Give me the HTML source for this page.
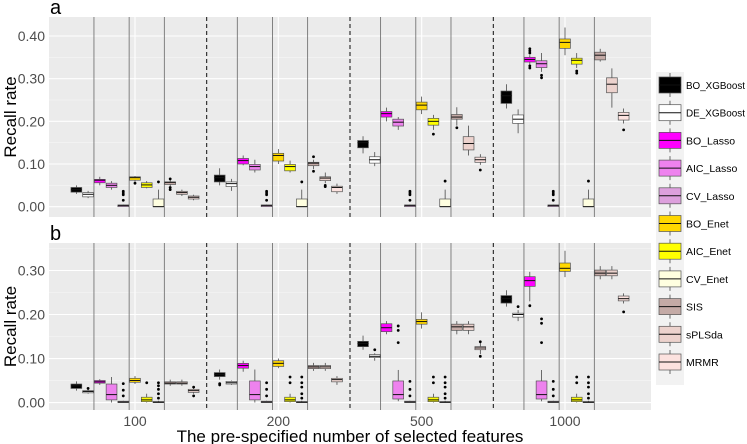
<!DOCTYPE html>
<html><head><meta charset="utf-8"><style>
html,body{margin:0;padding:0;background:#fff;}
svg{display:block;font-family:"Liberation Sans",Arial,sans-serif;}
</style></head><body>
<svg id="chart" width="747" height="444" viewBox="0 0 747 444"></svg>
<script>
const seriesNames=["BO_XGBoost","DE_XGBoost","BO_Lasso","AIC_Lasso","CV_Lasso","BO_Enet","AIC_Enet","CV_Enet","SIS","sPLSda","MRMR"];
const seriesColors=["#000000","#ffffff","#ff00ff","#ee82ee","#dda0dd","#ffd700","#ffff00","#ffffe0","#c4aaa6","#ecd2cd","#fce2df"];
const categories=["100","200","500","1000"];
const aTicks=[0,0.1,0.2,0.3,0.4];
const aTickLabels=["0.00","0.10","0.20","0.30","0.40"];
const bTicks=[0,0.1,0.2,0.3];
const bTickLabels=["0.00","0.10","0.20","0.30"];
// panel a: [lo,q1,med,q3,hi] per series per category
const aStats=[
[[0.03,0.034,0.04,0.045,0.05],[0.05,0.058,0.068,0.074,0.09],[0.125,0.138,0.15,0.155,0.165],[0.23,0.242,0.26,0.271,0.287]],
[[0.02,0.023,0.029,0.033,0.037],[0.037,0.047,0.054,0.058,0.065],[0.095,0.102,0.11,0.117,0.128],[0.172,0.195,0.205,0.215,0.228]],
[[0.05,0.056,0.062,0.064,0.07],[0.097,0.1,0.108,0.113,0.12],[0.2,0.21,0.218,0.223,0.232],[0.33,0.339,0.345,0.35,0.355]],
[[0.04,0.045,0.05,0.055,0.06],[0.08,0.086,0.094,0.099,0.11],[0.18,0.189,0.198,0.205,0.21],[0.316,0.326,0.335,0.342,0.36]],
[[0,0,0.003,0.004,0.005],[0,0,0.003,0.004,0.005],[0,0,0.003,0.004,0.005],[0,0,0.003,0.004,0.005]],
[[0.058,0.062,0.068,0.07,0.072],[0.1,0.107,0.12,0.125,0.135],[0.217,0.227,0.238,0.245,0.258],[0.355,0.371,0.385,0.393,0.42]],
[[0.043,0.045,0.051,0.056,0.06],[0.08,0.084,0.094,0.099,0.108],[0.18,0.191,0.2,0.207,0.215],[0.325,0.334,0.343,0.348,0.36]],
[[0,0,0,0.018,0.04],[0,0,0,0.018,0.04],[0,0,0,0.018,0.04],[0,0,0,0.018,0.04]],
[[0.048,0.052,0.057,0.058,0.063],[0.088,0.096,0.102,0.104,0.11],[0.19,0.205,0.21,0.216,0.233],[0.34,0.344,0.355,0.362,0.37]],
[[0.025,0.029,0.033,0.036,0.04],[0.055,0.061,0.067,0.07,0.08],[0.12,0.133,0.148,0.164,0.19],[0.232,0.267,0.287,0.302,0.324]],
[[0.015,0.018,0.022,0.025,0.028],[0.03,0.035,0.045,0.048,0.054],[0.098,0.104,0.11,0.116,0.123],[0.195,0.203,0.214,0.221,0.23]]
];
const aOut=[
[[],[],[],[]],
[[],[],[],[]],
[[],[],[],[0.325,0.33,0.36,0.365,0.37]],
[[],[],[],[0.302,0.308]],
[[0.015,0.028,0.032,0.036],[0.015,0.028,0.032,0.036],[0.015,0.028,0.032,0.036],[0.015,0.028,0.032,0.036]],
[[0.055],[],[],[]],
[[],[],[0.17],[0.313,0.318]],
[[0.058],[0.058],[0.06],[0.06]],
[[0.04,0.045,0.065],[0.083,0.117],[0.185],[]],
[[],[0.047,0.05],[],[]],
[[],[],[0.086],[0.18]]
];
const bStats=[
[[0.027,0.032,0.038,0.042,0.048],[0.052,0.059,0.064,0.068,0.075],[0.12,0.127,0.134,0.139,0.152],[0.218,0.226,0.236,0.243,0.255]],
[[0.02,0.022,0.025,0.027,0.03],[0.04,0.042,0.045,0.048,0.05],[0.095,0.102,0.105,0.109,0.112],[0.185,0.194,0.2,0.203,0.21]],
[[0.04,0.044,0.047,0.05,0.053],[0.07,0.078,0.084,0.089,0.095],[0.155,0.161,0.17,0.179,0.185],[0.23,0.264,0.277,0.286,0.297]],
[[0,0.006,0.018,0.042,0.058],[0,0.006,0.018,0.049,0.075],[0.003,0.008,0.018,0.049,0.074],[0.003,0.008,0.018,0.049,0.074]],
[[0,0,0.001,0.003,0.004],[0,0,0.001,0.003,0.004],[0,0,0.001,0.003,0.004],[0,0,0.001,0.003,0.004]],
[[0.042,0.046,0.05,0.055,0.06],[0.078,0.082,0.089,0.095,0.1],[0.168,0.178,0.184,0.189,0.205],[0.285,0.298,0.305,0.317,0.345]],
[[0,0.002,0.006,0.012,0.02],[0,0.002,0.006,0.012,0.02],[0,0.002,0.006,0.012,0.02],[0,0.002,0.006,0.012,0.02]],
[[0,0,0.001,0.002,0.004],[0,0,0.001,0.002,0.004],[0,0,0.001,0.002,0.004],[0,0,0.001,0.002,0.004]],
[[0.038,0.042,0.044,0.047,0.052],[0.072,0.077,0.081,0.084,0.09],[0.155,0.164,0.172,0.178,0.185],[0.28,0.288,0.294,0.301,0.31]],
[[0.038,0.042,0.044,0.047,0.052],[0.072,0.077,0.081,0.084,0.09],[0.155,0.164,0.172,0.178,0.185],[0.28,0.288,0.294,0.301,0.31]],
[[0.02,0.023,0.027,0.03,0.033],[0.04,0.047,0.052,0.055,0.06],[0.11,0.12,0.124,0.127,0.135],[0.225,0.231,0.236,0.242,0.248]]
];
const bOut=[
[[],[0.04,0.043],[],[]],
[[0.032],[],[0.12],[0.218]],
[[],[],[],[0.22]],
[[],[],[0.136,0.164,0.174],[0.136,0.18,0.19]],
[[0.015,0.028,0.043],[0.015,0.03,0.045],[0.015,0.03,0.048],[0.015,0.03,0.048]],
[[],[],[],[]],
[[0.045],[0.045,0.058],[0.045,0.058],[0.045,0.058]],
[[0.01,0.02,0.03,0.038,0.045],[0.01,0.02,0.035,0.045,0.058],[0.01,0.02,0.035,0.045,0.058],[0.01,0.02,0.035,0.045,0.058]],
[[],[],[],[]],
[[],[],[],[]],
[[0.015,0.035],[],[0.105,0.138],[0.206]]
];
const NS="http://www.w3.org/2000/svg";
const svg=document.getElementById('chart');
function mk(tag,attrs,parent){const e=document.createElementNS(NS,tag);for(const k in attrs)e.setAttribute(k,attrs[k]);(parent||svg).appendChild(e);return e;}
const PX0=49,PX1=651;
const unit=(PX1-PX0)/4.2;
function xCat(i){return PX0+(i+0.6)*unit;}
const dodge=unit*0.9/11;
function xBox(i,j){return xCat(i)+(j-5)*dodge;}
function drawPanel(key,top,bottom,vmin,vmax,ticks,tickLabels,stats,outs,label){
  const y=v=>bottom-(v-vmin)/(vmax-vmin)*(bottom-top);
  const g=mk('g',{});
  
  
  const bg=mk('rect',{x:PX0,y:top,width:PX1-PX0,height:bottom-top,fill:'#ebebeb'},g);
  
  
  for(let t=0;t<ticks.length;t++){
    const mv=ticks[t]+0.05;
    if(y(mv)>top) mk('line',{x1:PX0,x2:PX1,y1:y(mv),y2:y(mv),stroke:'#f7f7f7','stroke-width':0.6},g);
  }
  ticks.forEach((t,k)=>{
    const gl=mk('line',{x1:PX0,x2:PX1,y1:y(t),y2:y(t),stroke:'#fff','stroke-width':1.1},g);
    
    
    const tl=mk('text',{x:45,y:y(t)+5,'text-anchor':'end','font-size':14,fill:'#4d4d4d'},g);
    tl.textContent=tickLabels[k];
    
    
  });
  categories.forEach((c,i)=>{
    mk('line',{x1:xCat(i),x2:xCat(i),y1:top,y2:bottom,stroke:'#fff','stroke-width':1.1},g);
    [1.5,4.5,7.5].forEach(b=>{
      const sl=mk('line',{x1:xBox(i,b),x2:xBox(i,b),y1:top,y2:bottom,stroke:'#666','stroke-width':0.8},g);
      
      
    });
    if(i<3){
      const xd=(xCat(i)+xCat(i+1))/2;
      const dl=mk('line',{x1:xd,x2:xd,y1:top,y2:bottom,stroke:'#222','stroke-width':1.1,'stroke-dasharray':'4,3'},g);
      
      
    }
  });
  const bw=dodge*0.92;
  stats.forEach((ser,j)=>{
    ser.forEach((s,i)=>{
      const cx=xBox(i,j);
      const bx=mk('g',{},g);
      
      
      mk('line',{x1:cx,x2:cx,y1:y(s[0]),y2:y(s[4]),stroke:'#333','stroke-width':0.7},bx);
      mk('rect',{x:cx-bw/2,y:y(s[3]),width:bw,height:Math.max(1,y(s[1])-y(s[3])),fill:seriesColors[j],stroke:'#555','stroke-width':0.7},bx);
      mk('line',{x1:cx-bw/2,x2:cx+bw/2,y1:y(s[2]),y2:y(s[2]),stroke:'#111','stroke-width':1},bx);
      outs[j][i].forEach(o=>{mk('circle',{cx:cx,cy:y(o),r:1.4,fill:'#000'},bx);});
    });
  });
  const pl=mk('text',{x:50,y:top-3,'font-size':20,fill:'#000'});
  pl.textContent=label;
  
  
  const yt=mk('text',{x:0,y:0,'font-size':17,fill:'#000','text-anchor':'middle',transform:'translate(16,'+((top+bottom)/2)+') rotate(-90)'});
  yt.textContent='Recall rate';
  
  
  return y;
}
drawPanel('a',17,217,-0.0242,0.4445,aTicks,aTickLabels,aStats,aOut,'a');
drawPanel('b',243,410,-0.017,0.3625,bTicks,bTickLabels,bStats,bOut,'b');
categories.forEach((c,i)=>{
  const t=mk('text',{x:xCat(i),y:426,'text-anchor':'middle','font-size':14,fill:'#4d4d4d'});
  t.textContent=c;
  
  
});
const xt=mk('text',{x:350,y:442,'text-anchor':'middle','font-size':17,fill:'#000'});
xt.textContent='The pre-specified number of selected features';


const lg=mk('g',{});


mk('rect',{x:656,y:72,width:28,height:313,fill:'#f2f2f2'},lg);
seriesNames.forEach((n,j)=>{
  const cy=85+j*27.7;
  const e=mk('g',{},lg);
  
  
  mk('line',{x1:670,x2:670,y1:cy-12,y2:cy+12,stroke:'#333','stroke-width':0.7},e);
  mk('rect',{x:659,y:cy-8,width:22,height:16,fill:seriesColors[j],stroke:'#555','stroke-width':0.7},e);
  mk('line',{x1:659,x2:681,y1:cy,y2:cy,stroke:'#111','stroke-width':1},e);
  const t=mk('text',{x:686,y:cy+4,'font-size':10.5,fill:'#000'},e);
  if(n.length>=10){t.setAttribute('textLength','59');t.setAttribute('lengthAdjust','spacingAndGlyphs');}
  t.textContent=n;
});
</script>
</body></html>
